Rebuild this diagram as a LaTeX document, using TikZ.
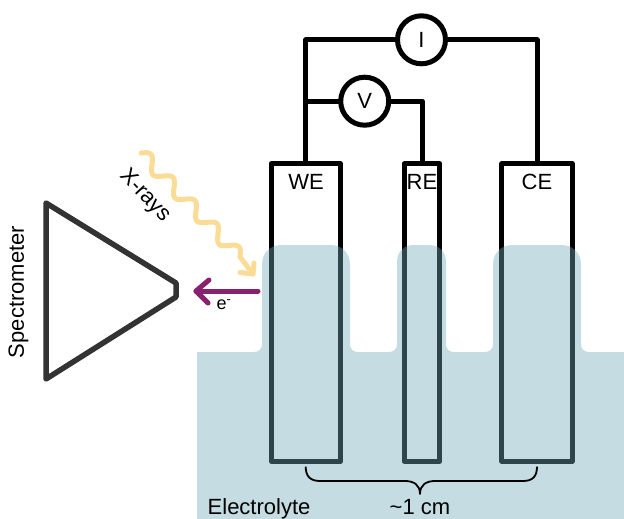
\documentclass[tikz,border=0pt]{standalone}
\usepackage{fontspec}
\setmainfont{Liberation Sans}
\definecolor{lyte}{RGB}{111,169,184}
\definecolor{xray}{RGB}{251,220,150}
\definecolor{elec}{RGB}{138,32,112}
\definecolor{spec}{RGB}{51,51,51}
\tikzset{
  electrode/.style={draw=black,line width=5pt,rectangle,minimum height=297.5pt,inner sep=0pt,outer sep=0pt,line join=round},
  wire/.style={draw=black,line width=5pt,line join=round},
  meter/.style={circle,draw=black,fill=white,line width=5pt,minimum size=48pt,inner sep=0pt,outer sep=0pt,font=\fontsize{22}{24}\selectfont},
  lbl/.style={inner sep=0pt,font=\fontsize{22}{24}\selectfont,text=black}
}
\begin{document}
\begin{tikzpicture}[x=1pt,y=-1pt]
\useasboundingbox (0,0) rectangle (624,519);
% electrodes
\node[electrode,minimum width=69.5pt] (WE) at (305.8,312.5) {};
\node[electrode,minimum width=35.7pt] (RE) at (422.1,312.5) {};
\node[electrode,minimum width=70.3pt] (CE) at (537.1,312.5) {};
% meters
\node[meter] (I) at (421.5,39.8) {I};
\node[meter] (V) at (364.7,101.2) {V};
\coordinate (wiretop) at (WE.north |- I.west);
\coordinate (wiremid) at (WE.north |- V.west);
\draw[wire] (WE.north) -- (wiretop) -- (I.west);
\draw[wire] (wiremid) -- (V.west);
\draw[wire] (V.east) -| (RE.north);
\draw[wire] (I.east) -| (CE.north);
% electrolyte
\fill[lyte,fill opacity=0.41]
 (197,352) -- (254,352) .. controls (259,352) and (262,349) .. (262,344)
 -- (262,265) .. controls (262,253) and (270,245) .. (282,245)
 -- (330,245) .. controls (342,245) and (350,253) .. (350,265)
 -- (350,344) .. controls (350,349) and (353,352) .. (358,352)
 -- (389,352) .. controls (394,352) and (397,349) .. (397,344)
 -- (397,262) .. controls (397,252) and (404,245) .. (414,245)
 -- (429,245) .. controls (439,245) and (446,252) .. (446,262)
 -- (446,344) .. controls (446,349) and (449,352) .. (454,352)
 -- (485,352) .. controls (490,352) and (493,349) .. (493,344)
 -- (493,265) .. controls (493,253) and (501,245) .. (513,245)
 -- (561,245) .. controls (573,245) and (581,253) .. (581,265)
 -- (581,344) .. controls (581,349) and (584,352) .. (589,352)
 -- (624,352) -- (624,519) -- (197,519) -- cycle;
% electrode labels
\node[lbl] (WEt) at (306,182) {WE};
\node[lbl] (REt) at (422,182) {RE};
\node[lbl] (CEt) at (537,182) {CE};
% spectrometer
\draw[spec,line width=5.5pt,line join=round] (46,203) -- (176,283) -- (176,297) -- (46,379) -- cycle;
\node[lbl,rotate=90] (spectxt) at (18.5,292) {Spectrometer};
% x-rays
\draw[xray,line width=5pt,line cap=round,line join=round]
 plot[smooth,samples=121,domain=0:1,variable=\t] ({141+99*\t+4.5*sin(1620*\t)},{153+104*\t-4.5*sin(1620*\t)}) -- (253,274);
\draw[xray,line width=5pt,line cap=round,line join=round] (240,272.5) -- (253,274) -- (254,263);
\node[lbl,rotate=-47] (xtxt) at (145,196) {X-rays};
% electron
\coordinate (etail) at (258,291);
\coordinate (ehead) at (196,291);
\draw[elec,line width=5pt,line cap=round,line join=round] (etail) -- (ehead);
\draw[elec,line width=5pt,line cap=round,line join=round] (209,280) -- (ehead) -- (208,303);
\node[inner sep=0pt,font=\fontsize{18}{20}\selectfont] (etxt) at (224,304.5) {e\textsuperscript{-}};
% brace
\draw[black,line width=1.8pt,line join=round]
 (305.7,466.7) .. controls (305.7,476) and (310,481) .. (320,481)
 -- (405,481) .. controls (414,481) and (420,485) .. (420,494)
 .. controls (420,485) and (426,481) .. (435,481)
 -- (523,481) .. controls (533,481) and (537,476) .. (537,466.7);
\node[lbl] (cm) at (420,507) {\textasciitilde 1 cm};
\node[lbl,anchor=base west] (ely) at (207.5,514) {Electrolyte};
\end{tikzpicture}
\end{document}
